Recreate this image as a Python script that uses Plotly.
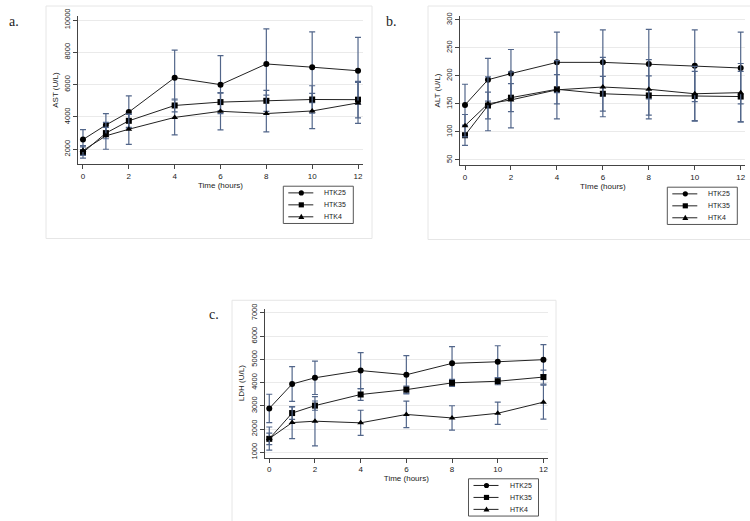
import plotly.graph_objects as go

W, H = 750, 521

hours = [0, 1, 2, 4, 6, 8, 10, 12]
series_names = ["HTK25", "HTK35", "HTK4"]
symbols = ["circle", "square", "triangle-up"]

# panel a - AST
ast_htk25 = [2600, 3500, 4300, 6430, 6000, 7280, 7080, 6860]
ast_htk25_sd = [620, 700, 1000, 1700, 1800, 2170, 2190, 2070]
ast_htk35 = [1800, 3000, 3760, 4710, 4920, 5000, 5080, 5070]
ast_htk35_sd = [350, 350, 400, 400, 550, 650, 850, 1130]
ast_htk4 = [1920, 2830, 3240, 3970, 4350, 4210, 4370, 4870]
ast_htk4_sd = [300, 830, 940, 1080, 1150, 1140, 1090, 1270]

# panel b - ALT
alt_htk25 = [148, 193, 204, 224, 224, 221, 218, 214]
alt_htk25_sd = [37, 38, 43, 54, 58, 62, 64, 64]
alt_htk35 = [94, 147, 161, 176, 168, 165, 164, 163]
alt_htk35_sd = [18, 24, 25, 26, 31, 35, 44, 45]
alt_htk4 = [111, 150, 157, 175, 180, 176, 168, 170]
alt_htk4_sd = [20, 48, 50, 52, 53, 53, 49, 52]

# panel c - LDH
ldh_htk25 = [2890, 3940, 4210, 4520, 4340, 4830, 4900, 4990]
ldh_htk25_sd = [610, 750, 720, 775, 820, 720, 690, 650]
ldh_htk35 = [1580, 2690, 3010, 3490, 3700, 3990, 4060, 4240]
ldh_htk35_sd = [250, 270, 200, 250, 150, 150, 150, 300]
ldh_htk4 = [1590, 2280, 2340, 2270, 2630, 2480, 2680, 3160]
ldh_htk4_sd = [500, 690, 1060, 540, 570, 525, 480, 730]

y_titles = ["AST (U/L)", "ALT (U/L)", "LDH (U/L)"]
x_titles = ["Time (hours)", "TIme (hours)", "Time (hours)"]
x_ticks = [0, 2, 4, 6, 8, 10, 12]
y_ticks = [[2000, 4000, 6000, 8000, 10000],
           [50, 100, 150, 200, 250, 300],
           [1000, 2000, 3000, 4000, 5000, 6000, 7000]]
y_ranges = [[1090, 10240], [41, 306.5], [776, 7180]]
panel_labels = ["a.", "b.", "c."]

panels = [
    [(ast_htk25, ast_htk25_sd), (ast_htk35, ast_htk35_sd), (ast_htk4, ast_htk4_sd)],
    [(alt_htk25, alt_htk25_sd), (alt_htk35, alt_htk35_sd), (alt_htk4, alt_htk4_sd)],
    [(ldh_htk25, ldh_htk25_sd), (ldh_htk35, ldh_htk35_sd), (ldh_htk4, ldh_htk4_sd)],
]

# layout in pixels: plot boxes (left, right, top, bottom), grey frames, legend boxes, labels
boxes = [(78.4, 362.6, 8.3, 159), (460.4, 745.3, 8.3, 160), (264.7, 548, 306.7, 458.3)]
frames = [(46, 372, -2, 235), (428, 760, -2, 236), (232, 556, 298, 530)]
legend_boxes = [(283.3, 181.7), (667.3, 182.7), (468.5, 480)]
label_pos = [(7, 14), (384, 14), (207, 313)]

ERR = "#52668a"
LINE = "#222222"
FONT = "Liberation Sans, Arial, sans-serif"


def px(x):
    return x / W


def py(y):
    return 1 - y / H


fig = go.Figure()
layout = dict(width=W, height=H, margin=dict(l=0, r=0, t=0, b=0),
              paper_bgcolor="white", plot_bgcolor="white", showlegend=False,
              font=dict(family=FONT, size=8, color="#222"))

shapes = []
annotations = []
for p in range(3):
    suffix = "" if p == 0 else str(p + 1)
    for s in range(3):
        vals, sd = panels[p][s]
        fig.add_trace(go.Scatter(
            x=hours, y=vals, name=series_names[s], mode="lines+markers",
            xaxis="x" + suffix, yaxis="y" + suffix,
            line=dict(color=LINE, width=1),
            marker=dict(symbol=symbols[s], size=6, color="black"),
            error_y=dict(type="data", array=sd, visible=True, color=ERR,
                         thickness=1.2, width=3),
            cliponaxis=False,
        ))
    l, r, t, b = boxes[p]
    layout["xaxis" + suffix] = dict(
        domain=[px(l), px(r)], range=[-0.2, 12.2], anchor="y" + suffix,
        tickvals=x_ticks, ticks="outside", ticklen=4, tickcolor="#444",
        showline=True, linecolor="#444", linewidth=1, showgrid=False, zeroline=False,
        ticklabeloverflow="allow",
        title=dict(text=x_titles[p], standoff=2, font=dict(size=8)),
        tickfont=dict(size=8))
    layout["yaxis" + suffix] = dict(
        domain=[py(b), py(t)], range=y_ranges[p], anchor="x" + suffix,
        tickvals=y_ticks[p], tickformat="d", ticks="outside", ticklen=4,
        tickcolor="#444", tickangle=-90,
        showline=True, linecolor="#444", linewidth=1, showgrid=True, gridcolor="#eaeaea",
        zeroline=False, title=dict(text=y_titles[p], standoff=3, font=dict(size=8)),
        tickfont=dict(size=7.5))

    # grey graph-region frame
    fl, fr, ft, fb = frames[p]
    shapes.append(dict(type="rect", xref="paper", yref="paper",
                       x0=px(fl), x1=px(fr), y0=py(fb), y1=py(ft),
                       line=dict(color="#e6e6e6", width=1), layer="below"))
    lx, ly = label_pos[p]
    annotations.append(dict(text=panel_labels[p], x=px(lx), y=py(ly), xref="paper",
                            yref="paper", xanchor="left", yanchor="middle", showarrow=False,
                            font=dict(family="Liberation Serif, serif", size=14, color="#222")))

    # legend box drawn like the Stata key
    L, T = legend_boxes[p]
    shapes.append(dict(type="rect", xref="paper", yref="paper",
                       x0=px(L), x1=px(L + 70), y0=py(T + 38), y1=py(T),
                       line=dict(color="#555", width=1), fillcolor="white"))
    for s in range(3):
        yr = T + 6.8 + 12.2 * s
        cx = L + 18
        shapes.append(dict(type="line", xref="paper", yref="paper",
                           x0=px(L + 5), x1=px(L + 30), y0=py(yr), y1=py(yr),
                           line=dict(color=LINE, width=1)))
        if symbols[s] == "circle":
            shapes.append(dict(type="circle", xref="paper", yref="paper",
                               x0=px(cx - 2.6), x1=px(cx + 2.6), y0=py(yr + 2.6), y1=py(yr - 2.6),
                               fillcolor="black", line=dict(width=0)))
        elif symbols[s] == "square":
            shapes.append(dict(type="rect", xref="paper", yref="paper",
                               x0=px(cx - 2.6), x1=px(cx + 2.6), y0=py(yr + 2.6), y1=py(yr - 2.6),
                               fillcolor="black", line=dict(width=0)))
        else:
            path = "M {} {} L {} {} L {} {} Z".format(px(cx - 3), py(yr + 2.2), px(cx + 3),
                                                     py(yr + 2.2), px(cx), py(yr - 3))
            shapes.append(dict(type="path", xref="paper", yref="paper", path=path,
                               fillcolor="black", line=dict(width=0)))
        annotations.append(dict(text=series_names[s], x=px(L + 39), y=py(yr), xref="paper",
                                yref="paper", xanchor="left", yanchor="middle",
                                showarrow=False, font=dict(size=7, color="#222")))

layout["shapes"] = shapes
layout["annotations"] = annotations
fig.update_layout(**layout)
fig.write_html("out.html", config={"displayModeBar": False},
               post_script="document.body.style.margin='0';")
